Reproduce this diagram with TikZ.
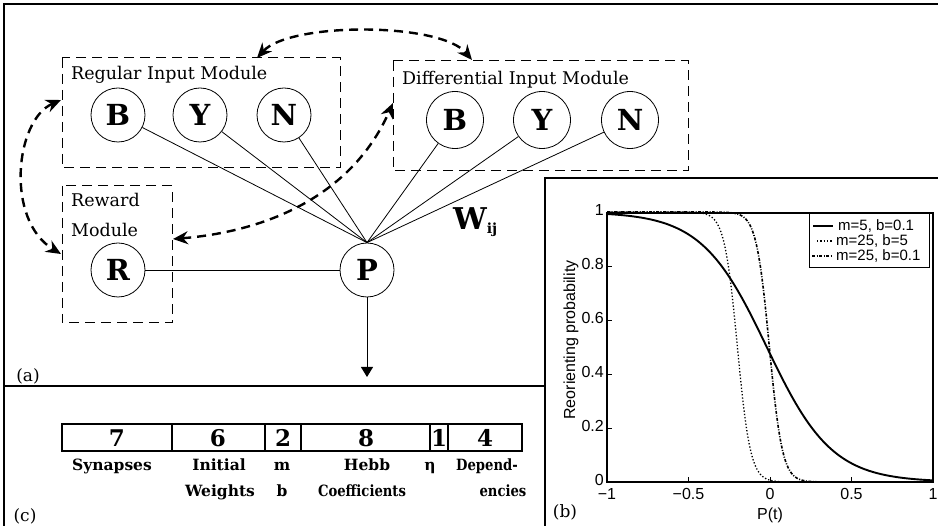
\documentclass[tikz,border=0pt]{standalone}
\usepackage{fontspec}
\setmainfont{DejaVu Serif}
\newfontfamily\plotfont{Liberation Sans}
\usetikzlibrary{arrows.meta}
\tikzset{unit/.style={circle, draw, line width=0.8pt, minimum size=54pt, inner sep=0pt, font=\fontsize{29}{29}\selectfont\bfseries},
  modbox/.style={draw, line width=1pt, dash pattern=on 10pt off 6pt},
  fb/.style={line width=2.4pt, dash pattern=on 9pt off 6pt, {Stealth[length=15pt,width=13pt]}-{Stealth[length=15pt,width=13pt]}},
  modlbl/.style={anchor=base west, inner sep=0pt, font=\fontsize{17.5}{18}\selectfont},
  num/.style={inner sep=0pt, font=\fontsize{23}{23}\selectfont\bfseries},
  fld/.style={anchor=base, inner sep=0pt, font=\fontsize{15.5}{18}\selectfont\bfseries},
  tag/.style={inner sep=0pt, font=\fontsize{17}{18}\selectfont},
  tick/.style={inner sep=0pt, font=\plotfont\fontsize{16}{16}\selectfont},
  legtxt/.style={anchor=west, inner sep=0pt, font=\plotfont\fontsize{15}{15}\selectfont}}

\begin{document}
\begin{tikzpicture}[x=1pt, y=-1pt]
  \useasboundingbox (0,0) rectangle (938,526);
  % panel frames
  \draw[line width=1.4pt] (4,526) -- (4,4) -- (938,4);
  \draw[line width=1.2pt] (4,386) -- (545,386);
  \draw[line width=1.4pt] (545,526) -- (545,178) -- (938,178);
  % (a) modules
  \draw[modbox] (62,58) rectangle (340,168);
  \draw[modbox] (393,61) rectangle (688,171);
  \draw[modbox] (62,186) rectangle (172,323);
  \node[modlbl] at (71,80) {Regular Input Module};
  \node[modlbl] at (402,85) {Differential Input Module};
  \node[modlbl] at (71,207) {Reward};
  \node[modlbl] at (71,237) {Module};
  \node[unit] (rb) at (118,115) {B};
  \node[unit] (ry) at (200,115) {Y};
  \node[unit] (rn) at (284,115) {N};
  \node[unit, minimum size=57pt] (db) at (455,120) {B};
  \node[unit, minimum size=57pt] (dy) at (542,120) {Y};
  \node[unit, minimum size=57pt] (dn) at (630,120) {N};
  \node[unit] (rw) at (118,270) {R};
  \node[unit] (p) at (367,270) {P};
  \foreach \u in {rb,ry,rn,db,dy,dn}
    \draw[line width=0.8pt] (\u) -- (p.north);
  \draw[line width=0.8pt] (rw) -- (p);
  \coordinate (out) at (367,377);
  \draw[line width=1pt, -{Triangle[length=10pt,width=12pt]}] (p) -- (out);
  \node[anchor=base west, inner sep=0pt, font=\fontsize{30}{30}\selectfont\bfseries] (w) at (453,230)
    {W\raisebox{-4pt}{\fontsize{14}{14}\selectfont ij}};
  % feedback links between modules
  \coordinate (regtop) at (257,58);
  \coordinate (diftop) at (472,60);
  \coordinate (regleft) at (61,100);
  \coordinate (rewleft) at (61,254);
  \coordinate (rewright) at (173,239);
  \coordinate (difleft) at (393,103);
  \draw[fb] (regtop) .. controls (290,22) and (440,22) .. (diftop);
  \draw[fb] (regleft) .. controls (15,120) and (5,220) .. (rewleft);
  \draw[fb] (rewright) .. controls (260,232) and (350,200) .. (difleft);
  \node[tag] (la) at (28,376) {(a)};
  % (c) genome layout
  \draw[line width=1.2pt] (62,424) rectangle (522,451);
  \foreach \xd in {172,265,301,430,448}
    \draw[line width=1.2pt] (\xd,424) -- (\xd,451);
  \foreach \xc/\n in {117/7,218/6,283/2,366/8,439/1,485/4}
    \node[num] at (\xc,438) {\n};
  \node[fld] at (112,471) {Synapses};
  \node[fld] at (219,471) {Initial};
  \node[fld] at (220,497) {Weights};
  \node[fld] at (282,471) {m};
  \node[fld] at (282,497) {b};
  \node[fld] at (367,471) {Hebb};
  \node[fld] at (362,497) {\scalebox{0.85}[1]{Coefficients}};
  \node[fld] at (430,471) {η};
  \node[fld] at (487,471) {\scalebox{0.85}[1]{Depend-}};
  \node[fld] at (503,497) {\scalebox{0.85}[1]{encies}};
  \node[tag] (lc) at (25,516) {(c)};
  % (b) reorienting probability
  \draw[line width=1.3pt] (607,213) rectangle (933,482);
  \foreach \t in {-0.5,0,0.5}
    \draw[line width=0.8pt] ({770+163*\t},482) -- ++(0,-5);
  \foreach \v in {0.2,0.4,0.6,0.8}
    \draw[line width=0.8pt] (607,{482-270*\v}) -- ++(5,0);
  \foreach \t/\s in {-1/−1,-0.5/−0.5,0/0,0.5/0.5,1/1}
    \node[tick] at ({770+163*\t},494) {\s};
  \foreach \v in {0,0.2,0.4,0.6,0.8,1}
    \node[tick, anchor=east] at (604,{480-270*\v}) {\v};
  \node[tick, rotate=90] (ylab) at (571,340) {Reorienting probability};
  \node[tick] (xlab) at (770,515) {P(t)};
  \draw[line width=1.9pt, domain=-1:1, samples=120] plot ({770+163*\x},{482-270/(1+exp(5*\x+0.1))});
  \draw[line width=1.3pt, dotted, domain=-1:0.15, samples=150] plot ({770+163*\x},{482-270/(1+exp(25*\x+5))});
  \draw[line width=1.6pt, dash pattern=on 3pt off 1.5pt on 1pt off 1.5pt, domain=-1:0.35, samples=150] plot ({770+163*\x},{482-270/(1+exp(25*\x+0.1))});
  % legend
  \draw[line width=0.8pt, fill=white] (809,213) rectangle (929,267);
  \draw[line width=1.9pt] (813,226) -- (833,226);
  \draw[line width=1.3pt, dotted] (817,241) -- (833,241);
  \draw[line width=1.6pt, dash pattern=on 3pt off 1.5pt on 1pt off 1.5pt] (812,256) -- (833,256);
  \node[legtxt] at (838,226) {m=5, b=0.1};
  \node[legtxt] at (836,241) {m=25, b=5};
  \node[legtxt] at (836,256) {m=25, b=0.1};
  \node[tag] (lb) at (565,512) {(b)};
\end{tikzpicture}
\end{document}
